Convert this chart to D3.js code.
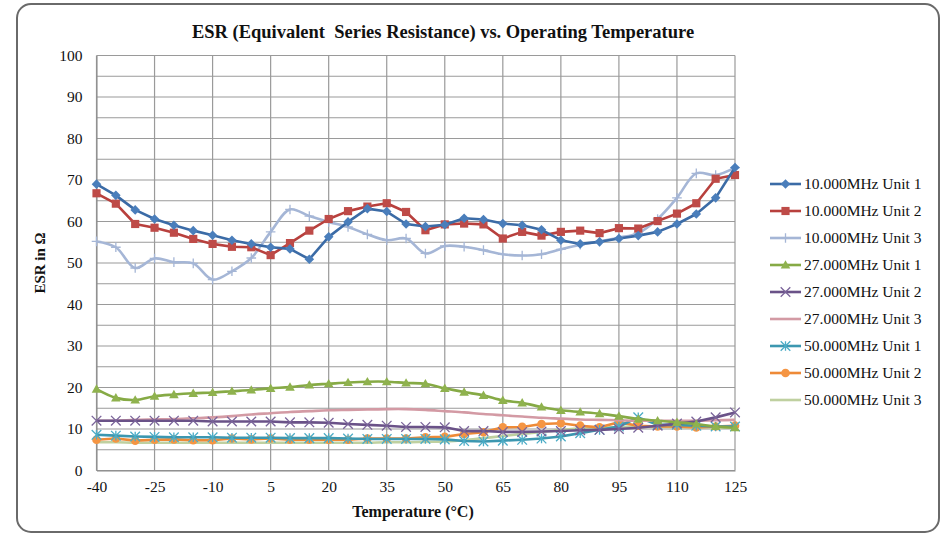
<!DOCTYPE html>
<html>
<head>
<meta charset="utf-8">
<script src="https://cdn.jsdelivr.net/npm/d3@7"></script>
<style>
  body { margin: 0; background: #fff; }
  svg, svg text { font-family: "Liberation Serif", "Times New Roman", Times, "DejaVu Serif", serif !important; }
  svg text { fill: #111; }
</style>
</head>
<body>
<svg id="chart" width="946" height="536"></svg>
<script>
// Temperatures (deg C) for every sample
var temps = [-40, -35, -30, -25, -20, -15, -10, -5, 0, 5, 10, 15, 20, 25, 30, 35, 40,
             45, 50, 55, 60, 65, 70, 75, 80, 85, 90, 95, 100, 105, 110, 115, 120, 125];

var xTicks = [-40, -25, -10, 5, 20, 35, 50, 65, 80, 95, 110, 125];
var yTicks = [0, 10, 20, 30, 40, 50, 60, 70, 80, 90, 100];

var names = ["10.000MHz Unit 1", "10.000MHz Unit 2", "10.000MHz Unit 3",
             "27.000MHz Unit 1", "27.000MHz Unit 2", "27.000MHz Unit 3",
             "50.000MHz Unit 1", "50.000MHz Unit 2", "50.000MHz Unit 3"];

var esr10u1 = [69, 66.3, 62.8, 60.6, 59.1, 57.8, 56.7, 55.5, 54.6, 53.8, 53.4, 50.9, 56.3, 59.9, 63.1, 62.4, 59.4,
               58.8, 59.2, 60.8, 60.5, 59.5, 59.1, 58, 55.5, 54.6, 55.1, 55.9, 56.6, 57.5, 59.4, 61.8, 65.7, 73];
var esr10u2 = [66.8, 64.3, 59.4, 58.5, 57.3, 55.8, 54.6, 53.9, 53.8, 51.9, 54.8, 57.8, 60.6, 62.5, 63.6, 64.4, 62.3,
               57.9, 59.3, 59.5, 59.3, 55.9, 57.5, 56.6, 57.5, 57.8, 57.2, 58.4, 58.3, 60.1, 61.9, 64.4, 70.3, 71.2];
var esr10u3 = [55.2, 53.8, 48.8, 51.1, 50.2, 49.9, 46, 48, 51.2, 57.5, 62.9, 61.3, 59.9, 58.7, 56.9, 55.5, 55.9,
               52.3, 54.1, 53.9, 53.1, 52.1, 51.8, 52.1, 53.3, 54.4, 55.2, 56.1, 57.2, 60.6, 65.7, 71.6, 71.2, 73];
var esr27u1 = [19.6, 17.5, 17.0, 17.9, 18.3, 18.6, 18.8, 19.1, 19.4, 19.8, 20.1, 20.6, 20.9, 21.2, 21.4, 21.4, 21.1,
               20.9, 19.8, 18.9, 18.1, 16.9, 16.3, 15.3, 14.5, 14.1, 13.7, 13.1, 12.4, 12.0, 11.6, 11.2, 10.6, 10.3];
var esr27u2 = [12, 12, 12, 12, 12, 12, 11.8, 11.8, 11.8, 11.8, 11.6, 11.6, 11.5, 11.2, 11, 10.8, 10.5,
               10.5, 10.4, 9.5, 9.5, 9.3, 9.3, 9.4, 9.5, 9.7, 9.8, 10, 10.3, 10.8, 11.3, 11.8, 12.8, 14];
var esr27u3 = [12, 12, 12.2, 12.3, 12.4, 12.6, 12.8, 13.1, 13.5, 13.8, 14.1, 14.3, 14.5, 14.6, 14.7, 14.8, 14.8,
               14.6, 14.3, 14.0, 13.6, 13.3, 13.0, 12.7, 12.5, 12.3, 12.2, 12.1, 12.0, 12.0, 12.0, 12.0, 12.1, 12.2];
var esr50u1 = [8.6, 8.4, 8.2, 8.1, 8.0, 8.0, 8.0, 7.9, 7.9, 7.9, 7.8, 7.8, 7.8, 7.7, 7.6, 7.6, 7.6,
               7.6, 7.5, 7.1, 7.0, 7.2, 7.4, 7.7, 8.2, 9.0, 9.8, 10.6, 12.8, 11.0, 11.0, 10.8, 10.6, 10.6];
var esr50u2 = [7.4, 7.7, 7.2, 7.4, 7.5, 7.3, 7.3, 7.7, 7.5, 7.7, 7.4, 7.4, 7.4, 7.4, 7.7, 7.7, 7.7,
               8.0, 8.1, 8.8, 9.2, 10.4, 10.5, 11.2, 11.4, 10.8, 10.4, 11.6, 10.8, 10.6, 10.6, 10.4, 10.6, 10.8];
var esr50u3 = [6.8, 6.8, 6.7, 6.7, 6.7, 6.7, 6.7, 6.7, 6.7, 6.7, 6.7, 6.7, 6.7, 6.7, 6.7, 6.8, 6.8,
               6.9, 7.0, 7.3, 7.8, 8.3, 8.8, 9.3, 9.8, 10.1, 10.3, 10.5, 10.5, 10.5, 10.4, 10.4, 10.3, 10.3];

var seriesValues = [esr10u1, esr10u2, esr10u3, esr27u1, esr27u2, esr27u3, esr50u1, esr50u2, esr50u3];

// line colour, marker colour, marker kind, smoothed?
var styles = [
    {line: "#3b6ba6", fill: "#4a7ebb", marker: "diamond", smooth: false},
    {line: "#b8403d", fill: "#be4b48", marker: "square", smooth: false},
    {line: "#a5b6d6", fill: "#a5b6d6", marker: "plus", smooth: true},
    {line: "#86aa45", fill: "#8fb24e", marker: "triangle", smooth: true},
    {line: "#6a5288", fill: "#7a649a", marker: "cross", smooth: false},
    {line: "#d39aa4", fill: "#d39aa4", marker: null, smooth: true},
    {line: "#3c97b0", fill: "#4bacc6", marker: "star", smooth: false},
    {line: "#ee8a37", fill: "#f59543", marker: "circle", smooth: false},
    {line: "#bfd0a0", fill: "#bfd0a0", marker: null, smooth: true}
];

var SERIF = "'Liberation Serif', 'Times New Roman', serif";
var margin = {left: 96.5, right: 735, top: 55.5, bottom: 470.5};

var svg = d3.select("#chart").attr("font-family", SERIF);

svg.append("rect")
    .attr("x", 17).attr("y", 4)
    .attr("width", 922).attr("height", 528)
    .attr("rx", 14).attr("ry", 14)
    .attr("fill", "#fff")
    .attr("stroke", "#6a6a6a")
    .attr("stroke-width", 2);

var x = d3.scaleLinear().domain([-40, 125]).range([margin.left, margin.right]);
var y = d3.scaleLinear().domain([0, 100]).range([margin.bottom, margin.top]);

// grid: horizontal every 5, vertical every 15
var grid = svg.append("g").attr("stroke", "#9a9a9a").attr("stroke-width", 1.2);
grid.selectAll("line.h")
    .data(d3.range(0, 101, 5))
    .join("line")
    .attr("x1", margin.left).attr("x2", margin.right)
    .attr("y1", function (d) { return y(d); })
    .attr("y2", function (d) { return y(d); });
grid.selectAll("line.v")
    .data(xTicks)
    .join("line")
    .attr("y1", margin.top).attr("y2", margin.bottom)
    .attr("x1", function (d) { return x(d); })
    .attr("x2", function (d) { return x(d); });

// axes (plain hyphen for negatives, like the original)
var plain = function (d) { return String(d); };
var xAxis = d3.axisBottom(x).tickValues(xTicks).tickFormat(plain).tickSize(0).tickPadding(10);
var yAxis = d3.axisLeft(y).tickValues(yTicks).tickFormat(plain).tickSize(0).tickPadding(14);

svg.append("g")
    .attr("transform", "translate(0," + margin.bottom + ")")
    .call(xAxis)
    .attr("font-family", SERIF)
    .attr("font-size", 15.5)
    .call(function (g) { g.select(".domain").attr("stroke", "#888"); });

svg.append("g")
    .attr("transform", "translate(" + margin.left + ",0)")
    .call(yAxis)
    .attr("font-family", SERIF)
    .attr("font-size", 15.5)
    .call(function (g) { g.select(".domain").attr("stroke", "#888"); });

// titles
svg.append("text")
    .attr("x", 443).attr("y", 38)
    .attr("text-anchor", "middle")
    .attr("font-size", 18.5).attr("font-weight", "bold")
    .attr("xml:space", "preserve")
    .text("ESR (Equivalent  Series Resistance) vs. Operating Temperature");

svg.append("text")
    .attr("x", 413).attr("y", 517)
    .attr("text-anchor", "middle")
    .attr("font-size", 16).attr("font-weight", "bold")
    .text("Temperature (\u00b0C)");

svg.append("text")
    .attr("transform", "translate(45,263) rotate(-90)")
    .attr("text-anchor", "middle")
    .attr("font-size", 15).attr("font-weight", "bold")
    .text("ESR in \u03a9");

// marker drawing
function drawMarker(g, kind, color, size) {
    var s = size;
    if (kind === "diamond") {
        g.append("path").attr("d", "M0," + (-s) + "L" + s + ",0L0," + s + "L" + (-s) + ",0Z").attr("fill", color);
    } else if (kind === "square") {
        g.append("rect").attr("x", -s * 0.85).attr("y", -s * 0.85)
            .attr("width", s * 1.7).attr("height", s * 1.7).attr("fill", color);
    } else if (kind === "triangle") {
        g.append("path").attr("d", "M0," + (-s) + "L" + s + "," + (s * 0.75) + "L" + (-s) + "," + (s * 0.75) + "Z").attr("fill", color);
    } else if (kind === "circle") {
        g.append("circle").attr("r", s * 0.9).attr("fill", color);
    } else if (kind === "plus") {
        g.append("path").attr("d", "M" + (-s) + ",0H" + s + "M0," + (-s) + "V" + s)
            .attr("stroke", color).attr("stroke-width", 1.3).attr("fill", "none");
    } else if (kind === "cross") {
        g.append("path").attr("d", "M" + (-s) + "," + (-s) + "L" + s + "," + s + "M" + (-s) + "," + s + "L" + s + "," + (-s))
            .attr("stroke", color).attr("stroke-width", 1.3).attr("fill", "none");
    } else if (kind === "star") {
        g.append("path").attr("d", "M" + (-s) + "," + (-s) + "L" + s + "," + s + "M" + (-s) + "," + s + "L" + s + "," + (-s) + "M0," + (-s) + "V" + s)
            .attr("stroke", color).attr("stroke-width", 1.3).attr("fill", "none");
    }
}

var plot = svg.append("g");

// draw in reverse order so the first series ends up on top
d3.range(seriesValues.length - 1, -1, -1).forEach(function (i) {
    var vals = seriesValues[i];
    var st = styles[i];
    var pts = temps.map(function (t, k) { return [t, vals[k]]; });
    var line = d3.line()
        .x(function (d) { return x(d[0]); })
        .y(function (d) { return y(d[1]); })
        .curve(st.smooth ? d3.curveCatmullRom.alpha(0.5) : d3.curveLinear);
    var g = plot.append("g");
    g.append("path")
        .attr("d", line(pts))
        .attr("fill", "none")
        .attr("stroke", st.line)
        .attr("stroke-width", 2.6)
        .attr("stroke-linejoin", "round");
    if (st.marker) {
        g.selectAll("g.m")
            .data(pts)
            .join("g")
            .attr("transform", function (d) { return "translate(" + x(d[0]) + "," + y(d[1]) + ")"; })
            .each(function () { drawMarker(d3.select(this), st.marker, st.fill, 4.8); });
    }
});

// legend
var legend = svg.append("g").attr("transform", "translate(770,184)");
names.forEach(function (name, i) {
    var st = styles[i];
    var row = legend.append("g").attr("transform", "translate(0," + (i * 27) + ")");
    row.append("line")
        .attr("x1", 0).attr("x2", 31)
        .attr("stroke", st.line).attr("stroke-width", 2.6);
    if (st.marker) {
        var m = row.append("g").attr("transform", "translate(15.5,0)");
        drawMarker(m, st.marker, st.fill, 4.8);
    }
    row.append("text")
        .attr("x", 34).attr("y", 5)
        .attr("font-size", 15.5)
        .text(name);
});
</script>
</body>
</html>
